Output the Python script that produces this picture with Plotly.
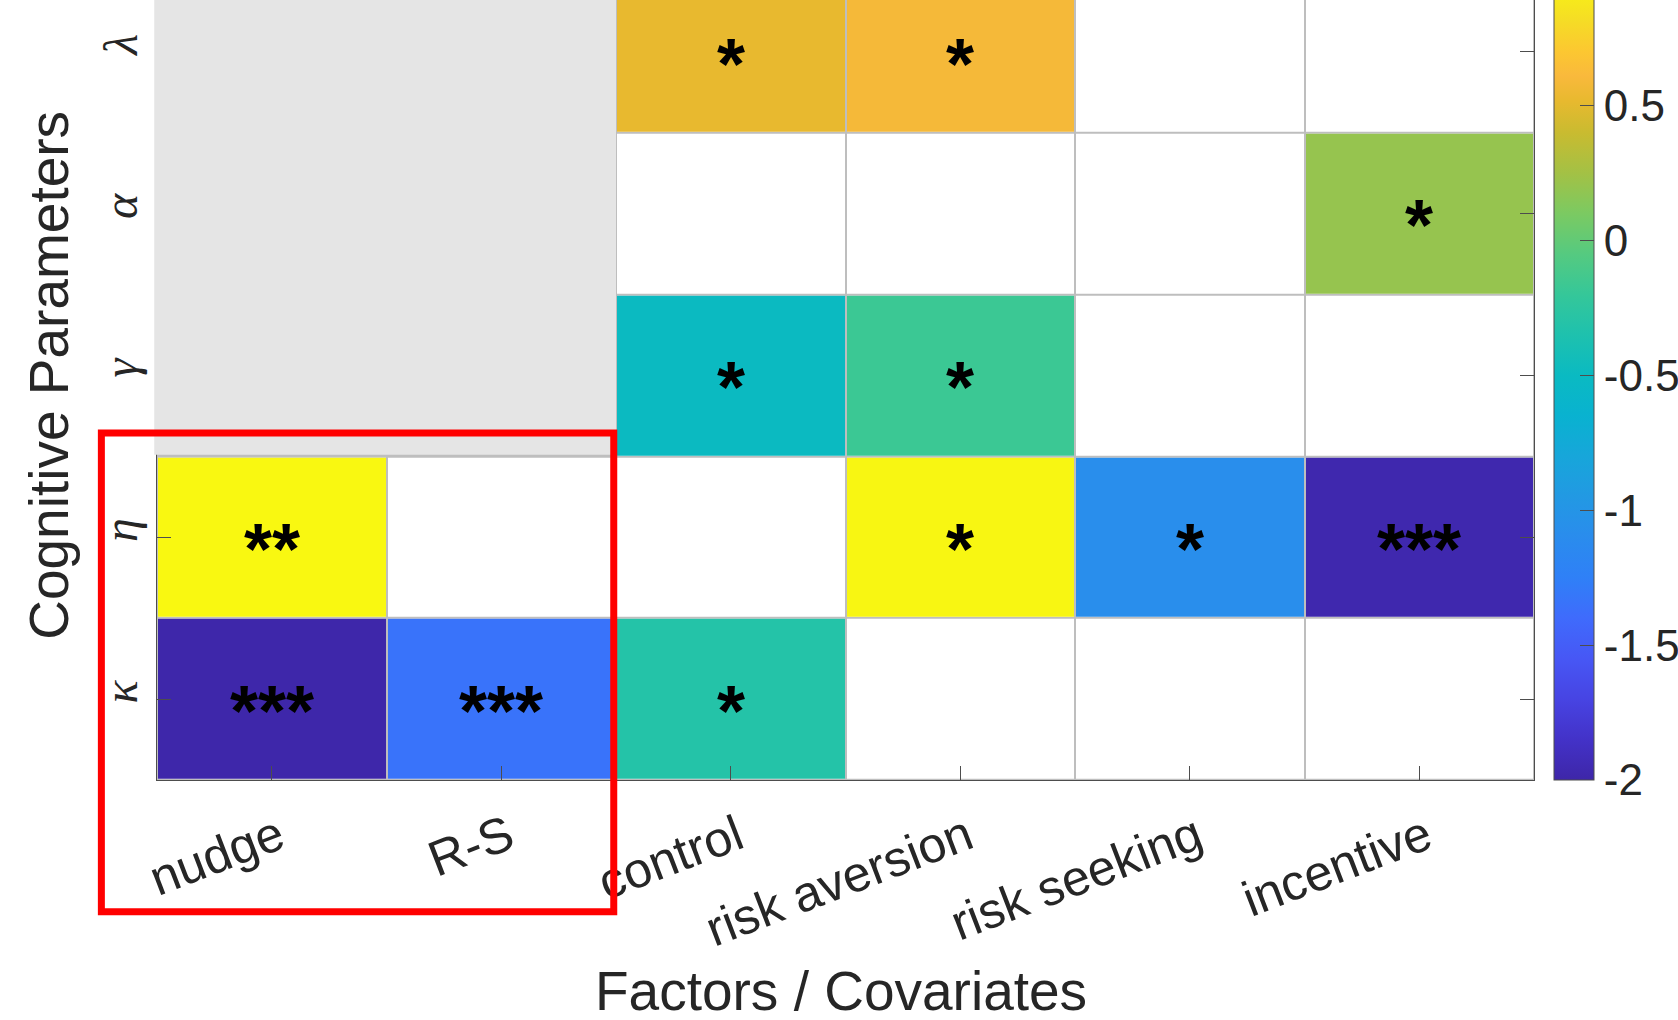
import numpy as np
import plotly.graph_objects as go

# ---------------- data ----------------
factors = ["nudge", "R-S", "control", "risk aversion", "risk seeking", "incentive"]
params = ["κ", "η", "γ", "α", "λ"]          # bottom -> top
NA = None                                    # factor not applicable (grey)
NS = np.nan                                  # not significant (white)

row_kappa  = [-1.99, -1.34, -0.31, NS, NS, NS]
row_eta    = [0.98, NS, NS, 0.97, -1.08, -1.97]
row_gamma  = [NA, NA, -0.49, -0.17, NS, NS]
row_alpha  = [NA, NA, NS, NS, NS, 0.20]
row_lambda = [NA, NA, 0.52, 0.59, NS, NS]

stars_kappa  = ["***", "***", "*", "", "", ""]
stars_eta    = ["**", "", "", "*", "*", "***"]
stars_gamma  = ["", "", "*", "*", "", ""]
stars_alpha  = ["", "", "", "", "", "*"]
stars_lambda = ["", "", "*", "*", "", ""]

cbar_ticks = [-2, -1.5, -1, -0.5, 0, 0.5]
cbar_labels = ["-2", "-1.5", "-1", "-0.5", "0", "0.5"]
zmin, zmax = -2, 1

rows = [row_kappa, row_eta, row_gamma, row_alpha, row_lambda]
stars = [stars_kappa, stars_eta, stars_gamma, stars_alpha, stars_lambda]

# ---------------- derived matrices ----------------
nr, nc = len(params), len(factors)
Z = np.full((nr, nc), np.nan)
Wbase = np.full((nr, nc), np.nan)
na_mask = np.zeros((nr, nc), bool)
for i, r in enumerate(rows):
    for j, v in enumerate(r):
        if v is None:
            na_mask[i, j] = True
        else:
            Wbase[i, j] = 0
            if not np.isnan(v):
                Z[i, j] = v

parula = [
    [0.00, "#3E26A8"], [0.05, "#4332C8"], [0.10, "#4744E3"], [0.15, "#4757F5"],
    [0.20, "#3F6BFC"], [0.25, "#2F80F7"], [0.30, "#2A8CED"], [0.35, "#2299E3"],
    [0.40, "#17A6DA"], [0.45, "#09B2D0"], [0.50, "#0ABAC2"], [0.55, "#1EC1AE"],
    [0.60, "#35C799"], [0.65, "#55CA80"], [0.70, "#7BCA62"], [0.75, "#A3C145"],
    [0.80, "#C9BB30"], [0.84, "#E8B92F"], [0.87, "#F9B93C"], [0.90, "#FCC731"],
    [0.94, "#F5DD25"], [1.00, "#F9FB0E"],
]

W, H = 1678, 1020
ml, mr, mt, mb = 157, 144, 0, 240
xr = [-0.5, nc - 0.5]
yr = [-0.5, 4.319]
TXT = "#262626"
AX = "#4d4d4d"

fig = go.Figure()
xs = list(range(nc))
ys = list(range(nr))

fig.add_trace(go.Heatmap(
    x=xs, y=ys, z=Wbase, colorscale=[[0, "white"], [1, "white"]],
    showscale=False, xgap=2, ygap=2, hoverinfo="skip"))

fig.add_trace(go.Heatmap(
    x=xs, y=ys, z=Z, colorscale=parula, zmin=zmin, zmax=zmax,
    xgap=2, ygap=2,
    colorbar=dict(
        x=1.0143, xanchor="left", xpad=0, xref="paper",
        y=0, yanchor="bottom", ypad=0, len=1.0374, lenmode="fraction",
        thickness=40, outlinewidth=1, outlinecolor=AX,
        tickvals=cbar_ticks, ticktext=cbar_labels,
        ticks="inside", ticklen=14, tickcolor=AX, tickwidth=1,
        tickfont=dict(family="Liberation Sans, Arial", size=44, color=TXT),
    )))

# asterisks
for i in range(nr):
    for j in range(nc):
        if stars[i][j]:
            fig.add_annotation(x=j, y=i, text=stars[i][j], showarrow=False,
                               xref="x", yref="y", yshift=-12,
                               font=dict(family="Liberation Sans, Arial", size=72,
                                         color="black", weight="bold"))

# grey "not applicable" region (derived from mask)
ii, jj = np.where(na_mask)
def px(v):
    return (v - xr[0]) / (xr[1] - xr[0])
def py(v):
    return (v - yr[0]) / (yr[1] - yr[0])
fig.add_shape(type="rect", xref="paper", yref="paper",
              x0=px(jj.min() - 0.5) - 0.002, x1=px(jj.max() + 0.5),
              y0=py(ii.min() - 0.5) + 0.002, y1=1.02,
              fillcolor="#E5E5E5", line=dict(width=0), layer="above")

# red highlight box
fig.add_shape(type="rect", xref="paper", yref="paper",
              x0=-0.0404, x1=0.3317, y0=-0.169, y1=0.445,
              line=dict(color="#FF0000", width=7), fillcolor="rgba(0,0,0,0)",
              layer="above")

# axis titles
fig.add_annotation(text="Factors / Covariates", xref="paper", yref="paper",
                   x=0.497, y=-0.27, xanchor="center", yanchor="middle",
                   showarrow=False,
                   font=dict(family="Liberation Sans, Arial", size=55, color=TXT))
fig.add_annotation(text="Cognitive Parameters", xref="paper", yref="paper",
                   x=-0.078, y=0.519, xanchor="center", yanchor="middle",
                   textangle=-90, showarrow=False,
                   font=dict(family="Liberation Sans, Arial", size=55, color=TXT))

fig.update_layout(
    width=W, height=H,
    margin=dict(l=ml, r=mr, t=mt, b=mb, pad=0, autoexpand=False),
    paper_bgcolor="white", plot_bgcolor="#BEBEBE",
    showlegend=False,
    xaxis=dict(range=xr, tickvals=xs, ticktext=factors, tickangle=-21,
               ticks="inside", ticklen=14, tickcolor=AX, tickwidth=1,
               ticklabelstandoff=7, ticklabelshift=7,
               showline=True, linecolor=AX, linewidth=1.2, mirror=False,
               showgrid=False, zeroline=False, fixedrange=True, automargin=False,
               tickfont=dict(family="Liberation Sans, Arial", size=50, color=TXT)),
    yaxis=dict(range=yr, tickvals=ys, ticktext=params, tickangle=-90,
               ticks="inside", ticklen=14, tickcolor=AX, tickwidth=1,
               showline=True, linecolor=AX, linewidth=1.2, mirror="ticks",
               showgrid=False, zeroline=False, fixedrange=True, automargin=False,
               tickfont=dict(family="Liberation Serif, DejaVu Serif", size=48,
                             color=TXT, style="italic")),
)

fig.write_html("out.html",
               config={"displayModeBar": False},
               post_script="document.body.style.margin='0';"
                           "document.body.style.overflow='hidden';")
